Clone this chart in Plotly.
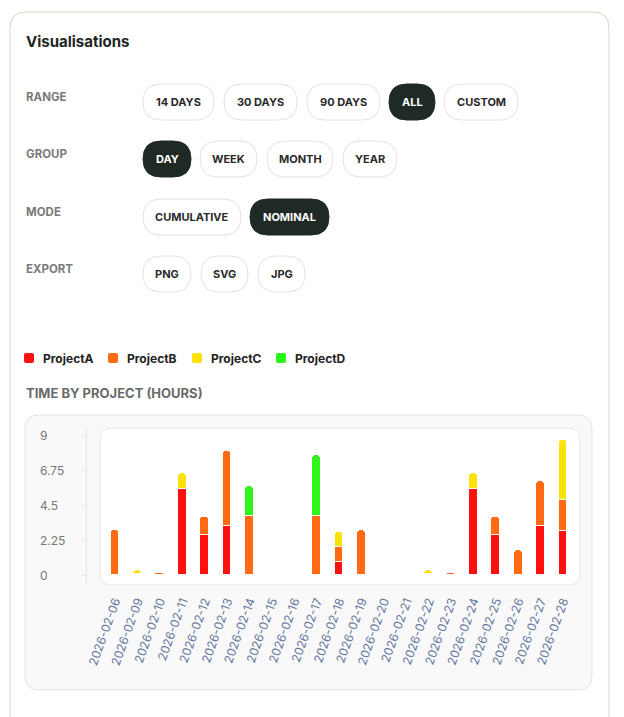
import plotly.graph_objects as go

W, H = 616, 709
OFF = 8
dates = ["2026-02-06","2026-02-09","2026-02-10","2026-02-11","2026-02-12","2026-02-13","2026-02-14",
         "2026-02-15","2026-02-16","2026-02-17","2026-02-18","2026-02-19","2026-02-20","2026-02-21",
         "2026-02-22","2026-02-23","2026-02-24","2026-02-25","2026-02-26","2026-02-27","2026-02-28"]
project_a = [0,0,0,5.55,2.6,3.15,0,0,0,0,0.85,0,0,0,0,0,5.55,2.6,0,3.15,2.85]
project_b = [2.9,0.05,0.1,0,1.1,4.8,3.8,0,0,3.8,0.95,2.9,0,0,0.05,0.1,0,1.1,1.6,2.9,1.95]
project_c = [0,0.3,0,1.0,0.1,0,0,0,0,0,0.95,0,0,0,0.3,0,1.0,0.1,0,0,3.9]
project_d = [0,0,0,0,0,0,1.9,0,0,3.9,0,0,0,0,0,0,0,0,0,0,0]
series = [("ProjectA", project_a, "#ff1010"), ("ProjectB", project_b, "#ff6a13"),
          ("ProjectC", project_c, "#ffe20a"), ("ProjectD", project_d, "#2ef51a")]
y_ticks = [0, 2.25, 4.5, 6.75, 9]
y_tick_labels = ["0", "2.25", "4.5", "6.75", "9"]

FONT = "Inter, Roboto, sans-serif"
px = lambda x: (x - OFF) / W
py = lambda y: 1 - (y - OFF) / H

def rrect(x0, y0, x1, y1, r):
    X = lambda v: px(v); Y = lambda v: py(v)
    return (f"M{X(x0+r)},{Y(y0)} L{X(x1-r)},{Y(y0)} Q{X(x1)},{Y(y0)} {X(x1)},{Y(y0+r)} "
            f"L{X(x1)},{Y(y1-r)} Q{X(x1)},{Y(y1)} {X(x1-r)},{Y(y1)} L{X(x0+r)},{Y(y1)} "
            f"Q{X(x0)},{Y(y1)} {X(x0)},{Y(y1-r)} L{X(x0)},{Y(y0+r)} Q{X(x0)},{Y(y0)} {X(x0+r)},{Y(y0)} Z")

fig = go.Figure()
for name, vals, col in series:
    fig.add_trace(go.Bar(x=dates, y=vals, name=name, marker=dict(color=col, line=dict(color="white", width=1)),
                         width=0.4, showlegend=False))

shapes, ann = [], []
shapes.append(dict(type="path", path=rrect(10, 12, 609, 740, 16), xref="paper", yref="paper",
                   line=dict(color="#ddd3c4", width=1), fillcolor="white", layer="below"))
shapes.append(dict(type="path", path=rrect(25, 415, 592, 690, 14), xref="paper", yref="paper",
                   line=dict(color="#e3e3e3", width=1), fillcolor="#f9f9f9", layer="below"))
shapes.append(dict(type="path", path=rrect(100, 428, 580, 585, 12), xref="paper", yref="paper",
                   line=dict(color="#e6e6e6", width=1), fillcolor="white", layer="below"))

def txt(t, x, y, size, color, xanchor="left", yref="paper"):
    ann.append(dict(text=t, x=x, y=y, xref="paper", yref=yref, xanchor=xanchor, yanchor="middle",
                    font=dict(size=size, color=color, family=FONT), showarrow=False))

txt("<b>Visualisations</b>", px(24), py(41), 15, "#1e2522")
rows = [("RANGE", 102, 97, [("14 DAYS",143,214,0),("30 DAYS",224,297,0),("90 DAYS",307,380,0),("ALL",389,435,1),("CUSTOM",444,518,0)]),
        ("GROUP", 159, 154, [("DAY",143,191,1),("WEEK",200,257,0),("MONTH",267,333,0),("YEAR",343,397,0)]),
        ("MODE", 217, 212, [("CUMULATIVE",143,241,0),("NOMINAL",250,329,1)]),
        ("EXPORT", 274, 269, [("PNG",143,191,0),("SVG",201,248,0),("JPG",258,305,0)])]
for label, cy, ly, btns in rows:
    txt(f"<b>{label}</b>", px(24), py(ly), 11.5, "#7a7a7a")
    for t, x0, x1, act in btns:
        shapes.append(dict(type="path", path=rrect(x0, cy-18, x1, cy+18, 18), xref="paper", yref="paper",
                           line=dict(color="#1f2a26" if act else "#e2e2e2", width=1),
                           fillcolor="#1f2a26" if act else "white", layer="below"))
        txt(f"<b>{t}</b>", px((x0+x1)/2), py(cy), 11, "white" if act else "#2a2a2a", xanchor="center")

# legend
for i, (name, _, col) in enumerate(series):
    x0 = 24 + 84 * i
    shapes.append(dict(type="path", path=rrect(x0, 353, x0 + 10, 363, 2), xref="paper", yref="paper",
                       line=dict(width=0), fillcolor=col))
    txt(f"<b>{name}</b>", px(x0 + 17), py(358), 12, "#222")

txt("<b>TIME BY PROJECT (HOURS)</b>", px(24), py(393), 13, "#6a6a6a")
for v, t in zip(y_ticks, y_tick_labels):
    txt(t, px(38), v, 12, "#777", yref="y")

fig.update_layout(
    width=W, height=H, margin=dict(l=0, r=0, t=0, b=0, autoexpand=False), paper_bgcolor="rgba(0,0,0,0)",
    plot_bgcolor="rgba(0,0,0,0)",
    barmode="stack", barcornerradius=5, shapes=shapes, annotations=ann, bargap=0,
    font=dict(family=FONT), showlegend=False,
    xaxis=dict(domain=[px(100), px(580)], type="category", range=[-0.67, 20.76], tickangle=-70,
               tickfont=dict(size=12, color="#6478a0", family=FONT), showgrid=False, zeroline=False,
               showline=False, ticks="", ticklabelstandoff=6, anchor="y", automargin=False),
    yaxis=dict(domain=[py(585), py(428)], range=[-0.64, 9.45], tickvals=y_ticks, showticklabels=False,
               showgrid=False, zeroline=False, showline=True, linecolor="#e6e6e6", ticks="outside",
               ticklen=4, tickcolor="#e6e6e6", anchor="free", position=px(86), automargin=False),
)
fig.write_html("out.html")
